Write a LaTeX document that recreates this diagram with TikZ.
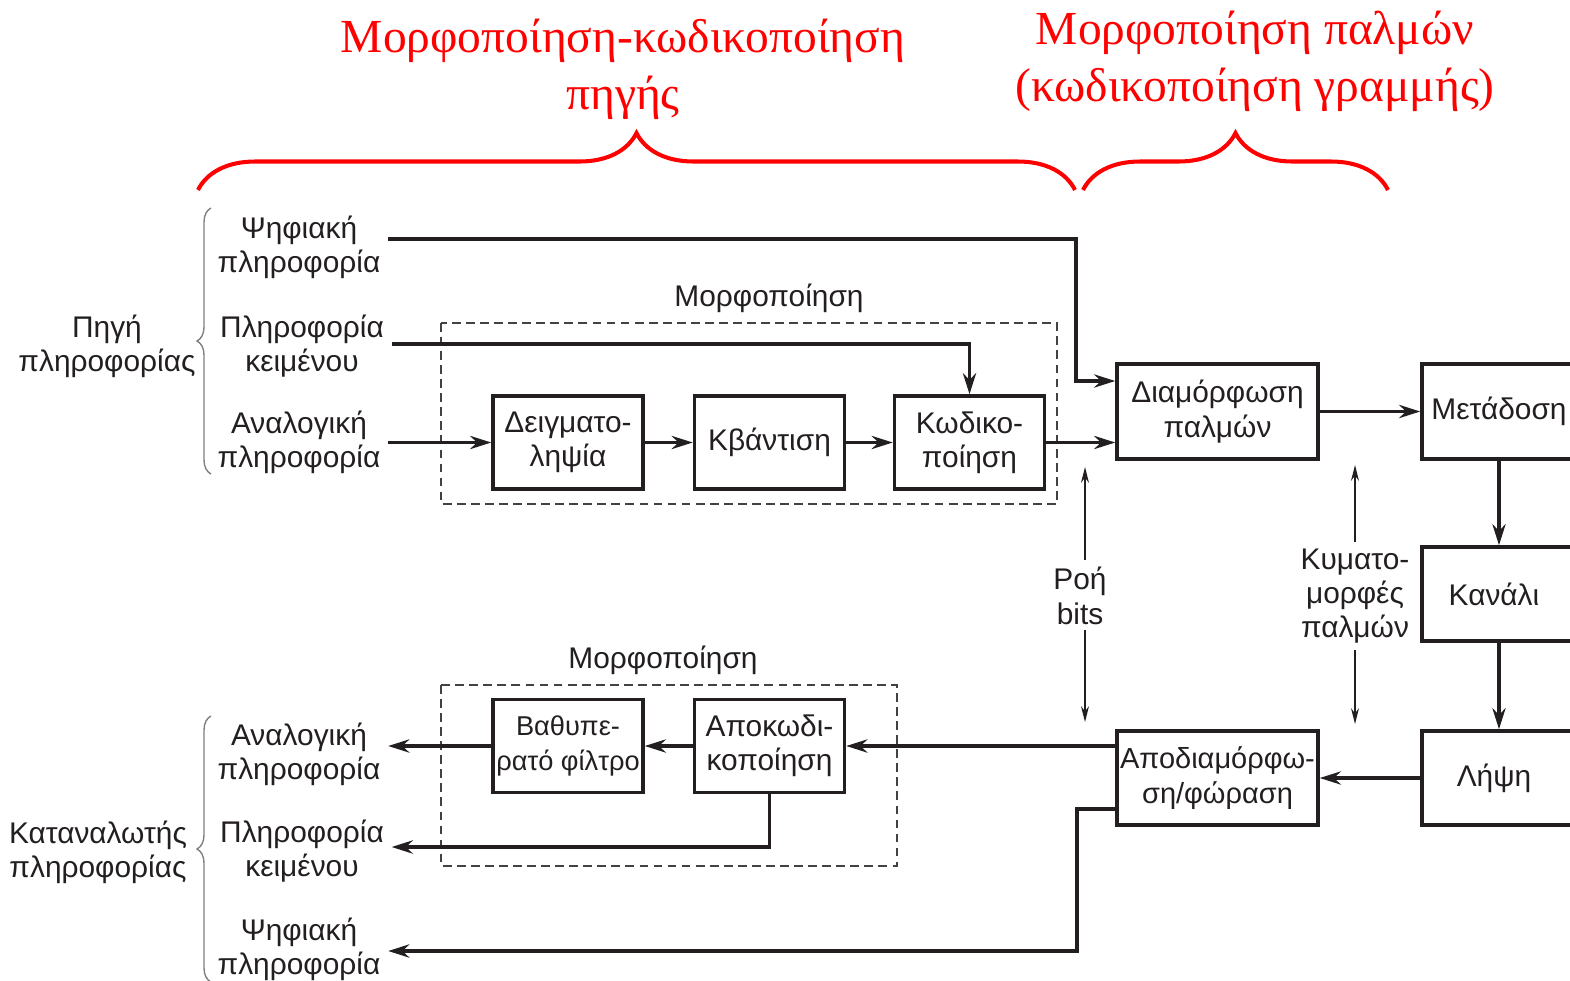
\documentclass[tikz,border=0pt]{standalone}
\usepackage{fontspec}
\setmainfont{Liberation Sans}
\newfontfamily\redserif{Liberation Serif}
\usetikzlibrary{arrows.meta}
\usetikzlibrary{decorations.pathreplacing}
\usetikzlibrary{positioning}
\definecolor{inkgray}{HTML}{231F20}
\tikzset{
  txt/.style={font=\fontsize{17}{19.5}\selectfont, text=inkgray, align=center},
  block/.style={txt, draw=inkgray, line width=2pt, minimum width=3cm, minimum height=1.86cm, inner sep=1pt},
  wideblock/.style={block, minimum width=4.02cm, minimum height=1.9cm},
  lbl/.style={txt, inner sep=0.15cm},
  flow/.style={draw=inkgray, line width=2pt, -{Stealth[length=12pt,width=7.5pt]}},
  thinflow/.style={draw=inkgray, line width=0.8pt, -{Stealth[length=9pt,width=4.5pt]}},
  groupbox/.style={draw=inkgray!85, line width=0.8pt, dash pattern=on 5pt off 3pt},
  redbrace/.style={draw=red, line width=2.3pt, decorate, decoration={brace, amplitude=1.14cm}},
  graybrace/.style={draw=gray, line width=0.8pt, decorate, decoration={brace, amplitude=0.28cm}},
  redtitle/.style={text=red, align=center, font=\redserif\fontsize{27}{32.4}\selectfont}
}
\begin{document}
\begin{tikzpicture}[x=0.02cm, y=-0.02cm]
  \useasboundingbox (0,0) rectangle (1570,981);
  \clip (0,0) rectangle (1570,981);

  \node[redtitle] (srctitle) at (623,69) {Μορφοποίηση-κωδικοποίηση\\πηγής};
  \node[redtitle] (linetitle) at (1255,61) {Μορφοποίηση παλμών\\(κωδικοποίηση γραμμής)};
  \draw[redbrace] (198,190) -- (1075,190);
  \draw[redbrace] (1083,190) -- (1388,190);

  \draw[graybrace] (211,474) -- (211,208);
  \draw[graybrace] (211,982) -- (211,716);
  \node[txt] (source) at (107,346) {Πηγή\\πληροφορίας};
  \node[txt] (sink) at (98,852) {Καταναλωτής\\πληροφορίας};

  \node[lbl] (dsrc) at (299,247) {Ψηφιακή\\πληροφορία};
  \node[lbl] (tsrc) at (302,346) {Πληροφορία\\κειμένου};
  \node[lbl] (asrc) at (299,442) {Αναλογική\\πληροφορία};
  \node[lbl] (asnk) at (299,754) {Αναλογική\\πληροφορία};
  \node[lbl] (tsnk) at (302,851) {Πληροφορία\\κειμένου};
  \node[lbl] (dsnk) at (299,949) {Ψηφιακή\\πληροφορία};

  \draw[groupbox] (441,323) rectangle (1057,504);
  \draw[groupbox] (441,685) rectangle (897,866);
  \node[txt] (fmt1) at (769,298) {Μορφοποίηση};
  \node[txt] (fmt2) at (663,660) {Μορφοποίηση};

  \node[block] (sample) at (568,442.5) {Δειγματο-\\ληψία};
  \node[block] (quant) at (769.5,442.5) {Κβάντιση};
  \node[block] (encode) at (969.5,442.5) {Κωδικο-\\ποίηση};
  \node[wideblock] (pulsemod) at (1217.5,411.5) {Διαμόρφωση\\παλμών};
  \node[block, minimum width=3.08cm, minimum height=1.9cm] (tx) at (1499,411.5) {Μετάδοση};
  \node[block, minimum width=3.08cm, minimum height=1.88cm] (channel) at (1499,594) {\hspace*{-0.2cm}Κανάλι};
  \node[block, minimum width=3.08cm, minimum height=1.88cm] (rx) at (1499,778) {\hspace*{-0.2cm}Λήψη};
  \node[wideblock, minimum height=1.88cm, font=\fontsize{16.5}{19.5}\selectfont] (demod) at (1217.5,778) {Αποδιαμόρφω-\\ση/φώραση};
  \node[block] (decode) at (769.5,746) {Αποκωδι-\\κοποίηση};
  \node[block, font=\fontsize{15.5}{19.5}\selectfont] (lowpass) at (568,746) {Βαθυπε-\\ρατό φίλτρο};

  \coordinate (dbend) at (1076,381);
  \coordinate (ubend) at (1077,951);
  \draw[flow] ([yshift=0.16cm]dsrc.east) -| (dbend) -- (dbend -| pulsemod.west);
  \draw[flow] ([yshift=0.04cm]tsrc.east) -| (encode.north);
  \draw[flow] (asrc.east |- sample.west) -- (sample.west);
  \draw[flow] (sample) -- (quant);
  \draw[flow] (quant) -- (encode);
  \draw[flow] (encode.east) -- (encode.east -| pulsemod.west);
  \draw[flow] (pulsemod) -- (tx.west);
  \draw[flow] (tx.south) -- (channel.north);
  \draw[flow] (channel.south) -- (rx.north);
  \draw[flow] (rx.west) -- (demod.east);
  \draw[flow] (decode.east -| demod.west) -- (decode.east);
  \draw[flow] (decode) -- (lowpass);
  \draw[flow] (lowpass.west) -- (lowpass.west -| asnk.east);
  \draw[flow] (decode.south) |- ([yshift=0.08cm]tsnk.east);
  \draw[flow] ([yshift=-0.62cm]demod.west) -| (ubend) -- (ubend -| dsnk.east);

  \node[txt] (bits) at (1080,596) {Ροή\\bits};
  \node[txt] (waves) at (1355,596) {Κυματο-\\μορφές\\παλμών};
  \draw[thinflow] (1085,560) -- (1085,467);
  \draw[thinflow] (1085,630) -- (1085,722);
  \draw[thinflow] (waves.north) -- (1355,465);
  \draw[thinflow] (waves.south) -- (1355,724);
\end{tikzpicture}
\end{document}
